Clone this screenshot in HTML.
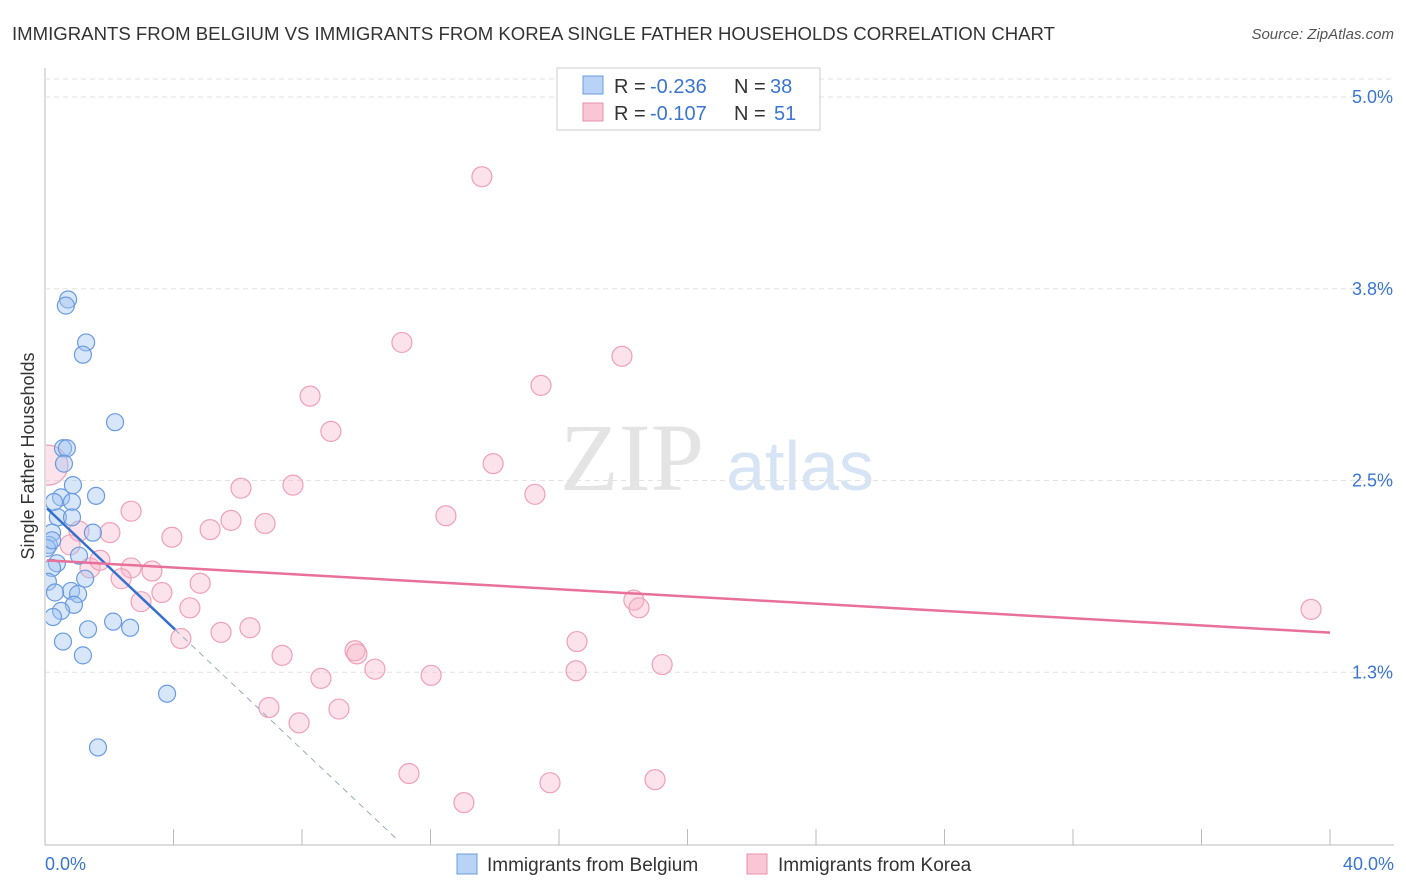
<!DOCTYPE html>
<html><head><meta charset="utf-8"><style>
body{margin:0;background:#fff;font-family:"Liberation Sans",sans-serif}
svg{display:block}
</style></head><body>
<svg id="c" width="1406" height="892">
<defs><clipPath id="plot"><rect x="46" y="60" width="1360" height="785"/></clipPath></defs>
<text x="12" y="40" font-size="18" fill="#333" textLength="1043" lengthAdjust="spacingAndGlyphs">IMMIGRANTS FROM BELGIUM VS IMMIGRANTS FROM KOREA SINGLE FATHER HOUSEHOLDS CORRELATION CHART</text>
<text x="1394" y="39" font-size="15" fill="#555" font-style="italic" text-anchor="end">Source: ZipAtlas.com</text>
<text x="632" y="490" font-size="96" fill="#e4e4e4" font-family="Liberation Serif" text-anchor="middle">ZIP</text>
<text x="800" y="490" font-size="70" fill="#d6e4f5" text-anchor="middle">atlas</text>
<text transform="translate(34,456) rotate(-90)" font-size="18" fill="#333" text-anchor="middle">Single Father Households</text>
<g id="grid"></g><g id="marks" clip-path="url(#plot)"></g>
<rect x="557" y="68" width="263" height="62" fill="#fff" stroke="#ccc"/>
<rect x="583" y="76" width="20" height="18" fill="#b8d3f5" stroke="#6a9be0"/>
<rect x="583" y="103" width="20" height="18" fill="#f9c6d5" stroke="#e890ab"/>
<g font-size="20">
<text x="614" y="93" fill="#333">R =</text><text x="650" y="93" fill="#3a75d0">-0.236</text>
<text x="734" y="93" fill="#333">N =</text><text x="770" y="93" fill="#3a75d0">38</text></g>
<g font-size="20">
<text x="614" y="120" fill="#333">R =</text><text x="650" y="120" fill="#3a75d0">-0.107</text>
<text x="734" y="120" fill="#333">N =</text><text x="774" y="120" fill="#3a75d0">51</text></g>
<text x="45" y="870" font-size="18" fill="#3a75d0">0.0%</text>
<text x="1394" y="870" font-size="18" fill="#3a75d0" text-anchor="end">40.0%</text>
<rect x="457" y="854" width="20" height="20" fill="#b8d3f5" stroke="#6a9be0"/>
<text x="487" y="871" font-size="19" fill="#333">Immigrants from Belgium</text>
<rect x="747" y="854" width="20" height="20" fill="#f9c6d5" stroke="#e890ab"/>
<text x="778" y="871" font-size="19" fill="#333">Immigrants from Korea</text>
</svg>
<script>
const yTicks=[1.25,2.5,3.75,5.0];
const yTickLabels=["1.3%","2.5%","3.8%","5.0%"];
const xTicks=[0,4,8,12,16,20,24,28,32,36,40];
const belgiumX=[0.72,0.65,1.28,1.18,2.18,0.56,0.68,0.59,0.87,1.59,0.50,0.28,0.84,0.40,0.84,0.22,1.49,0.12,1.06,0.37,0.22,1.25,0.09,0.81,0.31,1.03,0.90,0.50,0.25,2.12,1.34,2.65,0.56,1.18,3.80,1.65,0.06,0.22];
const belgiumY=[3.68,3.64,3.40,3.32,2.88,2.71,2.71,2.61,2.47,2.40,2.39,2.36,2.36,2.26,2.26,2.16,2.16,2.08,2.01,1.96,1.93,1.86,1.84,1.78,1.77,1.76,1.69,1.65,1.61,1.58,1.53,1.54,1.45,1.36,1.11,0.76,2.06,2.11];
const koreaX=[13.6,11.11,17.96,15.44,8.25,8.90,13.95,6.10,7.72,15.25,12.48,2.68,5.79,6.85,5.14,2.02,1.06,3.95,0.78,0.09,2.68,3.33,1.40,2.37,4.83,3.64,2.99,4.51,18.33,18.49,39.41,5.48,6.38,4.23,16.56,9.65,9.71,7.38,10.27,19.21,16.53,12.02,8.59,6.97,7.91,9.15,11.33,15.72,18.99,13.04,1.71];
const koreaY=[4.48,3.40,3.31,3.12,3.05,2.82,2.61,2.45,2.47,2.41,2.27,2.30,2.24,2.22,2.18,2.16,2.17,2.13,2.08,2.60,1.93,1.91,1.93,1.86,1.83,1.77,1.71,1.67,1.72,1.67,1.66,1.51,1.54,1.47,1.45,1.39,1.37,1.36,1.27,1.30,1.26,1.23,1.21,1.02,0.92,1.01,0.59,0.53,0.55,0.40,1.98];
const koreaR=[10,10,10,10,10,10,10,10,10,10,10,10,10,10,10,10,10,10,10,20,10,10,10,10,10,10,10,10,10,10,10,10,10,10,10,10,10,10,10,10,10,10,10,10,10,10,10,10,10,10,10];
const belgiumTrend=[2.33,-0.198];
const koreaTrend=[1.98,-0.0118];
const X=v=>45+v/40*1285, Y=v=>864-v*153.4;
const NS="http://www.w3.org/2000/svg";
function mk(p,t,a){const e=document.createElementNS(NS,t);for(const k in a)e.setAttribute(k,a[k]);p.appendChild(e);return e;}
const g=document.getElementById('grid'), m=document.getElementById('marks');
let ax=mk(g,'line',{x1:45,y1:68,x2:45,y2:845,stroke:'#bbb'});


let bx=mk(g,'line',{x1:45,y1:845,x2:1394,y2:845,stroke:'#bbb'});


let tg=mk(g,'line',{x1:45,y1:79,x2:1394,y2:79,stroke:'#e2e2e2','stroke-dasharray':'5,4'});


yTicks.forEach((v,i)=>{
 const l=mk(g,'line',{x1:45,y1:Y(v),x2:1394,y2:Y(v),stroke:'#e2e2e2','stroke-dasharray':'5,4'});
 
 
 const t=mk(g,'text',{x:1393,y:Y(v)+6,'font-size':18,fill:'#3a75d0','text-anchor':'end'});
 t.textContent=yTickLabels[i];
 
 
});
xTicks.forEach(v=>{
 const l=mk(g,'line',{x1:X(v),y1:829,x2:X(v),y2:845,stroke:'#bbb'});
 
 
});
koreaX.forEach((v,i)=>{
 const c=mk(m,'circle',{cx:X(v),cy:Y(koreaY[i]),r:koreaR[i],fill:'rgba(248,180,200,0.38)',stroke:'#eea0b8','stroke-width':1.2});
 
 
});
belgiumX.forEach((v,i)=>{
 const c=mk(m,'circle',{cx:X(v),cy:Y(belgiumY[i]),r:8.5,fill:'rgba(160,195,240,0.42)',stroke:'#6a9be0','stroke-width':1.2});
 
 
});
const bt=x=>belgiumTrend[0]+belgiumTrend[1]*x, kt=x=>koreaTrend[0]+koreaTrend[1]*x;
let d=mk(m,'line',{x1:X(4.05),y1:Y(bt(4.05)),x2:X(11),y2:Y(bt(11)),stroke:'#9ab',"stroke-dasharray":'6,5'});


let b=mk(m,'line',{x1:X(0.06),y1:Y(bt(0.06)),x2:X(4.05),y2:Y(bt(4.05)),stroke:'#3370d0','stroke-width':2.5});


let k=mk(m,'line',{x1:X(0.06),y1:Y(kt(0.06)),x2:X(40),y2:Y(kt(40)),stroke:'#e8709a','stroke-width':2.5});


</script>
</body></html>
